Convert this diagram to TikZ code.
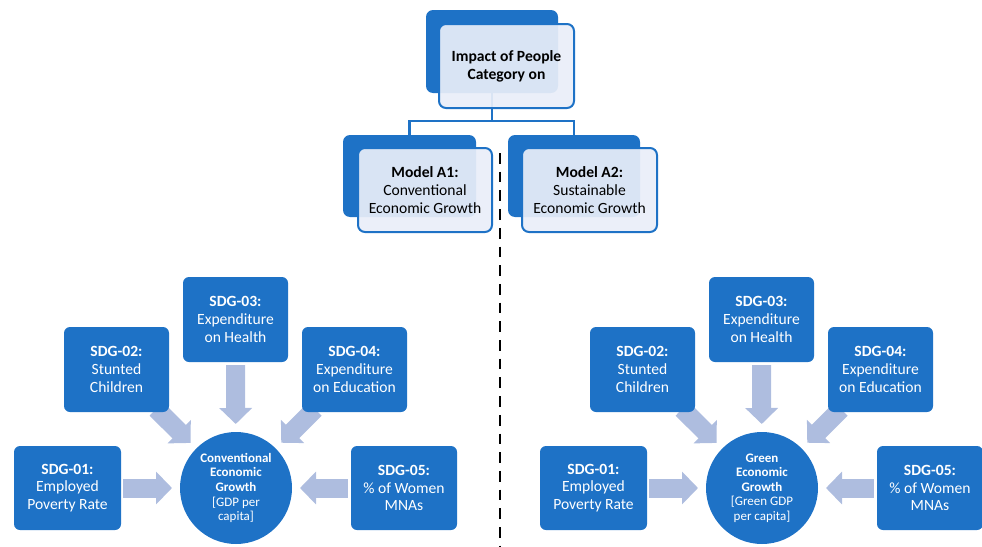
\documentclass[tikz,border=0pt]{standalone}
\usepackage{fontspec}
\setmainfont{Carlito}
\usetikzlibrary{arrows.meta,calc}
\definecolor{mblue}{RGB}{30,114,198}
\definecolor{larrow}{RGB}{174,189,223}
\definecolor{lfill}{RGB}{233,238,248}
\pgfdeclarelayer{bg}
\pgfsetlayers{bg,main}
\newcommand\SdgSide[3]{%
\begin{scope}[xshift=#2pt, name prefix=#1-]
 \node[sdg] (s3) at (235.5,319.5) {\textbf{SDG-03:}\\Expenditure\\on Health};
 \node[sdg] (s2) at (116.5,369.5) {\textbf{SDG-02:}\\Stunted\\Children};
 \node[sdg] (s4) at (354.5,369.5) {\textbf{SDG-04:}\\Expenditure\\on Education};
 \node[sdg, minimum width=107pt, minimum height=84pt] (s1) at (67.5,488) {\textbf{SDG-01:}\\Employed\\Poverty Rate};
 \node[sdg, minimum width=106pt, minimum height=84pt] (s5) at (404,488) {\textbf{SDG-05:}\\\% of Women\\MNAs};
 \node[hub] (c) at (236,488) {#3};
 \begin{pgfonlayer}{bg}
 \draw[arr, shorten <=2pt] (s1.east) -- (c.center);
 \draw[arr, shorten <=3pt] (s5.west) -- (c.center);
 \draw[arr, shorten <=3pt] (s3.south) -- (c.center);
 \draw[arr, shorten <=56pt] (s2.center) -- (c.center);
 \draw[arr, shorten <=56pt] (s4.center) -- (c.center);
 \end{pgfonlayer}
\end{scope}}

\begin{document}
\begin{tikzpicture}[x=1pt,y=-1pt,
 backbox/.style={fill=mblue, rounded corners=7pt, inner sep=0pt},
 frontbox/.style={fill=lfill, fill opacity=0.92, text opacity=1, draw=mblue, line width=2pt,
   rounded corners=7pt, inner sep=0pt, align=center, text=black,
   font=\fontsize{15.6}{17.7}\selectfont},
 sdg/.style={fill=mblue, rounded corners=6pt, inner sep=0pt, minimum width=105pt,
   minimum height=85pt, align=center, text=white, font=\fontsize{15.6}{17.7}\selectfont},
 hub/.style={circle, fill=mblue, minimum size=112pt, inner sep=0pt, align=center,
   text=white, font=\fontsize{13}{14.6}\selectfont},
 conn/.style={draw=mblue, line width=2.5pt},
 arr/.style={draw=larrow, line width=19pt, -{Triangle[length=16pt,width=32pt]}, shorten >=64pt},
 dashline/.style={line width=2pt, dash pattern=on 10.7pt off 8pt}]
\useasboundingbox (0,0) rectangle (982,546);

% back boxes
\node[backbox, minimum width=132pt, minimum height=83pt] (tb) at (492,51.5) {};
\node[backbox, minimum width=133pt, minimum height=82pt] (a1b) at (409.5,176) {};
\node[backbox, minimum width=132pt, minimum height=82pt] (a2b) at (574,176) {};

% connectors
\draw[conn] (tb.south) -- ++(0,28) -| (a1b.north);
\draw[conn] (tb.south) -- ++(0,28) -| (a2b.north);

% front boxes
\node[frontbox, minimum width=135pt, minimum height=84pt] (t) at (506.5,66)
  {\textbf{Impact of People}\\\textbf{Category on}};
\node[frontbox, minimum width=134pt, minimum height=84pt] (a1) at (425,190)
  {\textbf{Model A1:}\\Conventional\\Economic Growth};
\node[frontbox, minimum width=135pt, minimum height=84pt] (a2) at (589.5,190)
  {\textbf{Model A2:}\\Sustainable\\Economic Growth};

% dashed divider
\coordinate (dtop) at (499.5,153);
\coordinate (dbot) at (499.5,546);
\draw[dashline] (dtop) -- (dbot);

\SdgSide{L}{0}{\textbf{Conventional}\\\textbf{Economic}\\\textbf{Growth}\\{}[GDP per\\capita]}
\SdgSide{R}{526}{\textbf{Green}\\\textbf{Economic}\\\textbf{Growth}\\{}[Green GDP\\per capita]}
\end{tikzpicture}
\end{document}
